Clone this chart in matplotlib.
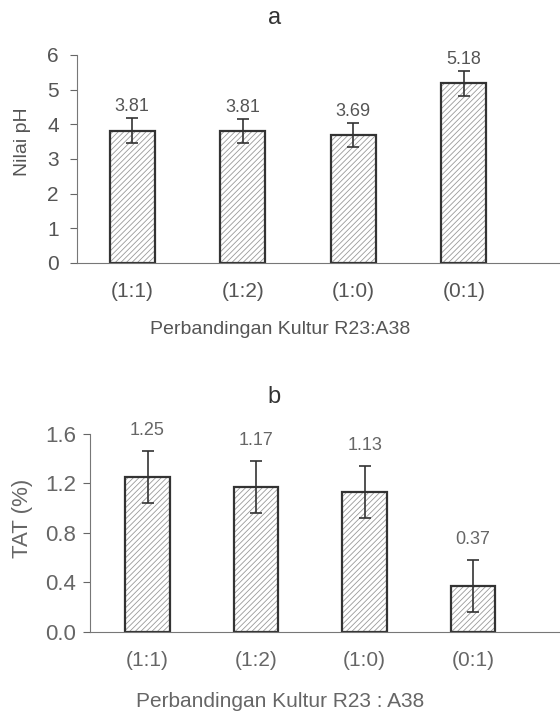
import numpy as np
import matplotlib
matplotlib.use("Agg")
import matplotlib.pyplot as plt

plt.rcParams['font.family'] = ['Liberation Sans', 'DejaVu Sans']
plt.rcParams['hatch.linewidth'] = 0.6

categories = ["(1:1)", "(1:2)", "(1:0)", "(0:1)"]

ph_values = [3.81, 3.81, 3.69, 5.18]
ph_labels = ["3.81", "3.81", "3.69", "5.18"]
ph_err = [0.36, 0.35, 0.35, 0.35]
ph_ticks = [0, 1, 2, 3, 4, 5, 6]

tat_values = [1.25, 1.17, 1.13, 0.37]
tat_labels = ["1.25", "1.17", "1.13", "0.37"]
tat_err = [0.21, 0.21, 0.21, 0.21]
tat_ticks = [0.0, 0.4, 0.8, 1.2, 1.6]

txt = "#555555"
fig = plt.figure(figsize=(5.6, 7.14), dpi=100)


def panel(rect, vals, labels, err, ticks, fmt, lab_off, xlim, tick_fs, ypad, tcolor):
    ax = fig.add_axes(rect)
    x = np.arange(len(vals))
    ax.bar(x, vals, width=0.41, color="white", edgecolor="#999999",
           hatch="//////", linewidth=0)
    ax.bar(x, vals, width=0.41, color="none", edgecolor="#333333",
           linewidth=1.6)
    ax.errorbar(x, vals, yerr=err, fmt="none", ecolor="#333333",
                elinewidth=1.2, capsize=4, capthick=1.2)
    for xi, v, e, s in zip(x, vals, err, labels):
        ax.text(xi, v + e + lab_off, s, ha="center", va="center",
                fontsize=13, color=tcolor)
    ax.set_xlim(*xlim)
    ax.set_ylim(ticks[0], ticks[-1])
    ax.set_yticks(ticks)
    ax.set_yticklabels([fmt.format(t) for t in ticks], fontsize=tick_fs, color=tcolor)
    ax.set_xticks(x)
    ax.set_xticklabels(categories, fontsize=15, color=tcolor)
    ax.tick_params(axis="x", length=0, pad=14)
    ax.tick_params(axis="y", length=5, width=0.8, color="#666666", pad=ypad)
    for s in ["top", "right"]:
        ax.spines[s].set_visible(False)
    ax.spines["left"].set_color("#777777")
    ax.spines["bottom"].set_color("#777777")
    return ax


panel([0.1375, 0.6317, 0.8625, 0.2913], ph_values, ph_labels, ph_err, ph_ticks,
      "{:g}", 0.33, (-0.5, 3.87), 15, 8, txt)
fig.text(0.49, 0.975, "a", ha="center", va="center", fontsize=17, color="#333333")
fig.text(0.5, 0.538, "Perbandingan Kultur R23:A38", ha="center", va="center",
         fontsize=14, color=txt)
fig.text(0.041, 0.802, "Nilai pH", ha="center", va="center", rotation=90,
         fontsize=14, color=txt)

panel([0.1607, 0.1153, 0.8393, 0.2768], tat_values, tat_labels, tat_err, tat_ticks,
      "{:.1f}", 0.17, (-0.53, 3.8), 16, 5, "#666666")
fig.text(0.49, 0.444, "b", ha="center", va="center", fontsize=17, color="#333333")
fig.text(0.5, 0.017, "Perbandingan Kultur R23 : A38", ha="center", va="center",
         fontsize=15, color="#666666")
fig.text(0.04, 0.274, "TAT (%)", ha="center", va="center", rotation=90,
         fontsize=16, color="#666666")

fig.savefig("out.png", dpi=100)
